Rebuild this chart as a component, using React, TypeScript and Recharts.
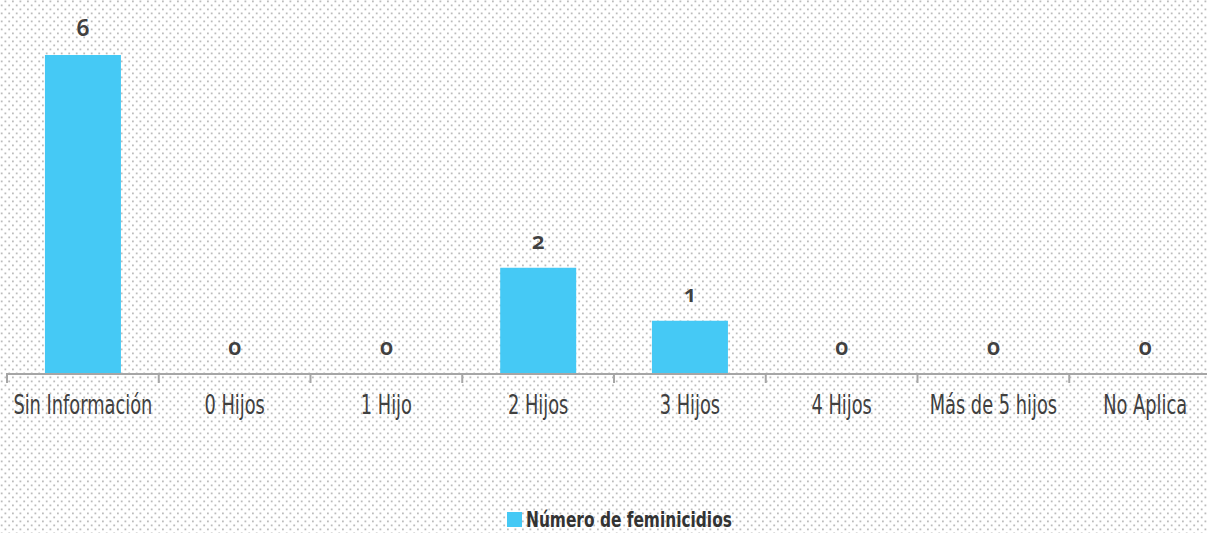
import React from 'react';
import { BarChart, Bar, XAxis, YAxis, Legend, LabelList } from 'recharts';

const categories = ['Sin Información', '0 Hijos', '1 Hijo', '2 Hijos', '3 Hijos', '4 Hijos', 'Más de 5 hijos', 'No Aplica'];
const feminicidios = [6, 0, 0, 2, 1, 0, 0, 0];
const seriesName = 'Número de feminicidios';

const data = categories.map((c, i) => ({ name: c, value: feminicidios[i] }));

const BAR = '#45C9F5';
const TEXT = '#404040';
const AXIS = '#a6a6a6';

const dotSvg =
  "url(\"data:image/svg+xml;utf8,<svg xmlns='http://www.w3.org/2000/svg' width='15' height='16'><g fill='%23bcbcbc'><rect x='4.5' y='0.5' width='1.8' height='1.8'/><rect x='12' y='0.5' width='1.8' height='1.8'/><rect x='0.8' y='4.5' width='1.8' height='1.8'/><rect x='8.3' y='4.5' width='1.8' height='1.8'/><rect x='4.5' y='8.5' width='1.8' height='1.8'/><rect x='12' y='8.5' width='1.8' height='1.8'/><rect x='0.8' y='12.5' width='1.8' height='1.8'/><rect x='8.3' y='12.5' width='1.8' height='1.8'/></g></svg>\")";

// Category tick: label at band centre, tick mark at the band's left boundary
const CatTick = (props: any) => {
  const { x, y, payload } = props;
  const half = payload && payload.offset ? payload.offset : 0;
  return (
    <g>
      <line x1={x - half} x2={x - half} y1={y - 1} y2={y + 9} stroke={AXIS} strokeWidth={2} />
      <g transform={`translate(${x},${y})`}>
        <text
          transform="scale(0.685,1)"
          textAnchor="middle"
          y={40}
          fontSize={26}
          fontFamily='"DejaVu Sans", sans-serif'
          fontWeight={400}
          fill={TEXT}
        >
          {payload.value}
        </text>
      </g>
    </g>
  );
};

const LegendContent = () => (
  <div style={{ display: 'flex', justifyContent: 'center', alignItems: 'center', height: 28, paddingLeft: 11 }}>
    <span style={{ display: 'inline-block', width: 15, height: 15, background: BAR, marginRight: 4 }} />
    <span
      style={{
        display: 'inline-block',
        fontFamily: '"DejaVu Sans", sans-serif',
        fontWeight: 700,
        fontSize: 22,
        color: '#333',
        transform: 'scaleX(0.7)',
        transformOrigin: 'left center',
        marginRight: -88,
        whiteSpace: 'nowrap',
      }}
    >
      {seriesName}
    </span>
  </div>
);

export default function App() {
  return (
    <div
      style={{
        position: 'absolute',
        left: 0,
        top: 0,
        width: 1207,
        height: 533,
        backgroundColor: '#ffffff',
        backgroundImage: dotSvg,
        backgroundSize: '15px 16px',
        overflow: 'hidden',
      }}
    >
      <BarChart
        width={1207}
        height={533}
        data={data}
        margin={{ top: 55, right: -14, left: 7, bottom: 91 }}
        barCategoryGap="25%"
      >
        <YAxis hide domain={[0, 6]} />
        <XAxis
          dataKey="name"
          height={40}
          tickSize={0}
          tickMargin={0}
          interval={0}
          axisLine={{ stroke: AXIS, strokeWidth: 2 }}
          tickLine={false}
          tick={<CatTick />}
        />
        <Legend content={<LegendContent />} wrapperStyle={{ bottom: 0, height: 28 }} />
        <Bar dataKey="value" name={seriesName} fill={BAR} minPointSize={0.01} isAnimationActive={false}>
          <LabelList
            dataKey="value"
            position="top"
            offset={19}
            fill={TEXT}
            style={{ fontFamily: '"Noto Sans", sans-serif', fontWeight: 600, fontSize: 23, fontVariantNumeric: 'oldstyle-nums' }}
          />
        </Bar>
      </BarChart>
    </div>
  );
}
